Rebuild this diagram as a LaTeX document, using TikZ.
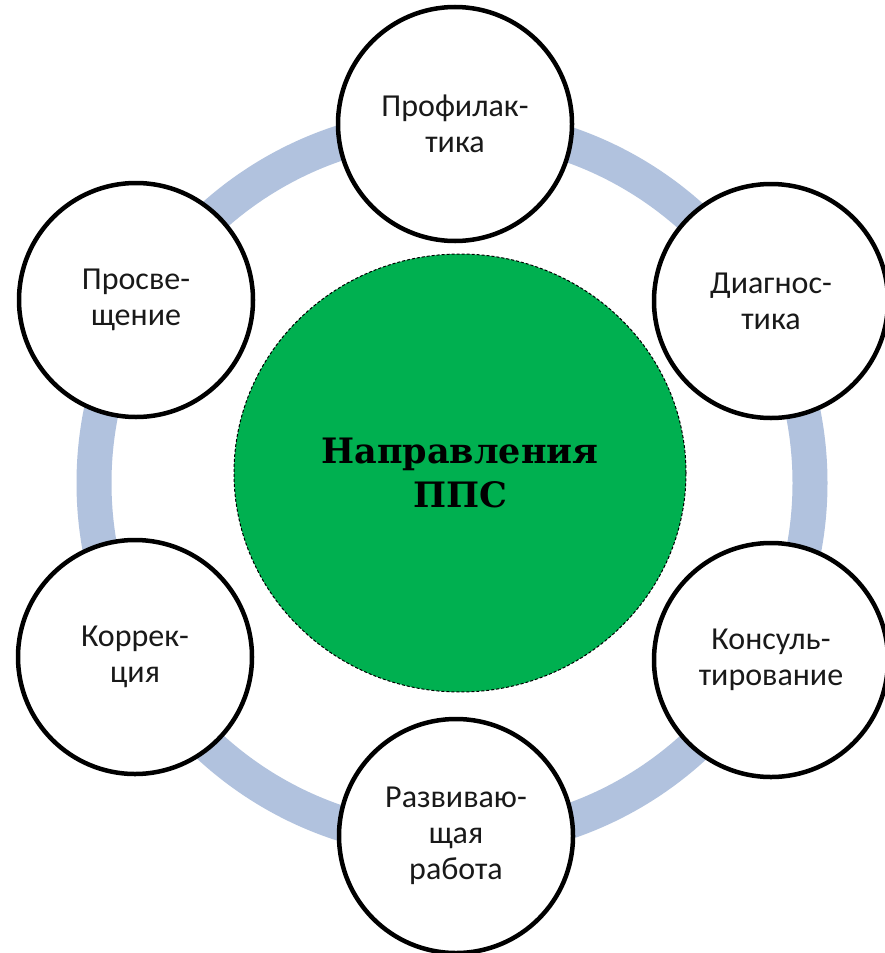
\documentclass[tikz,border=0pt]{standalone}
\usepackage{fontspec}
\setmainfont{Carlito}
\newfontfamily\headfont{DejaVu Serif}
\usetikzlibrary{shapes.geometric}
\definecolor{ringblue}{RGB}{177,194,222}
\definecolor{pgreen}{RGB}{0,176,80}
\definecolor{txtgray}{RGB}{25,25,25}
\begin{document}
\begin{tikzpicture}[x=1pt,y=-1pt,
  item/.style={circle, draw=black, line width=4.5pt, fill=white,
    minimum size=234pt, inner sep=0pt, align=center,
    font=\fontsize{32}{36}\selectfont, text=txtgray},
  hub/.style={ellipse, draw=black, line width=1pt, dash pattern=on 3pt off 2pt,
    fill=pgreen, minimum width=452pt, minimum height=438pt, inner sep=0pt,
    align=center, font=\headfont\bfseries\fontsize{35}{44}\selectfont, text=black},
  ringline/.style={draw=ringblue, line width=35pt}]
\useasboundingbox (0,0) rectangle (884,953);
\fill[white] (0,0) rectangle (884,953);
\coordinate (ringc) at (452,483);
\draw[ringline] (ringc) circle[radius=358pt];
\node[item] (prof) at (455,124) {Профилак-\\тика};
\node[item] (diag) at (771,301) {Диагнос-\\тика};
\node[item] (kons) at (771,660) {Консуль-\\тирование};
\node[item] (razv) at (456,836) {Развиваю-\\щая\\работа};
\node[item] (korr) at (135,657) {Коррек-\\ция};
\node[item] (pros) at (136,300) {Просве-\\щение};
\node[hub] (hub) at (460,473) {Направления\\ППС};
\end{tikzpicture}
\end{document}
